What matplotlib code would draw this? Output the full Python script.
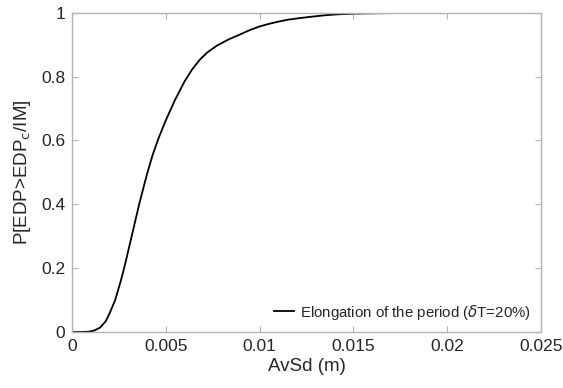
import matplotlib
matplotlib.use("Agg")
import matplotlib.pyplot as plt

# AvSd (m) vs exceedance probability
avsd = [0.0, 0.0005, 0.0009, 0.0012, 0.0015, 0.0018, 0.0020, 0.0023, 0.0026,
        0.0028, 0.0030, 0.0032, 0.0034, 0.0036, 0.0038, 0.0040, 0.0043, 0.0046,
        0.0050, 0.0055, 0.0060, 0.0064, 0.0068, 0.0072, 0.0077, 0.0083, 0.0090,
        0.0095, 0.0100, 0.0105, 0.0110, 0.0115, 0.0120, 0.0127, 0.0135, 0.0142,
        0.0150, 0.0160, 0.0175, 0.0200, 0.0250]
prob = [0.0, 0.0, 0.001, 0.005, 0.014, 0.034, 0.058, 0.100, 0.160,
        0.205, 0.255, 0.305, 0.355, 0.405, 0.450, 0.495, 0.555, 0.605,
        0.663, 0.728, 0.785, 0.822, 0.852, 0.875, 0.896, 0.915, 0.933,
        0.946, 0.957, 0.965, 0.972, 0.978, 0.982, 0.987, 0.992, 0.995,
        0.997, 0.998, 0.999, 1.0, 1.0]

xticks = [0, 0.005, 0.01, 0.015, 0.02, 0.025]
xticklabels = ["0", "0.005", "0.01", "0.015", "0.02", "0.025"]
yticks = [0, 0.2, 0.4, 0.6, 0.8, 1]
yticklabels = ["0", "0.2", "0.4", "0.6", "0.8", "1"]

plt.rcParams['font.family'] = ['Liberation Sans', 'DejaVu Sans']
plt.rcParams['mathtext.fontset'] = 'dejavusans'

fig = plt.figure(figsize=(5.63, 3.88), dpi=100)
ax = fig.add_axes([0.1279, 0.1443, 0.8331, 0.8230])

ax.plot(avsd, prob, color='black', linewidth=1.3,
        label=r'Elongation of the period ($\delta$T=20%)')

ax.set_xlim(0, 0.025)
ax.set_ylim(0, 1)
ax.set_xticks(xticks)
ax.set_xticklabels(xticklabels)
ax.set_yticks(yticks)
ax.set_yticklabels(yticklabels)

axis_gray = '#b4b4b4'
text_gray = '#262626'
for s in ax.spines.values():
    s.set_color(axis_gray)
    s.set_linewidth(1.0)
ax.tick_params(direction='in', length=4, width=0.8, color=axis_gray,
               labelcolor=text_gray, labelsize=12.5, top=True, right=True,
               pad=5)

ax.set_xlabel('AvSd (m)', fontsize=13.5, color=text_gray, labelpad=3)
ax.set_ylabel(r'P[EDP>EDP$_\mathsf{c}$/IM]', fontsize=13.5, color=text_gray,
              labelpad=6)

leg = ax.legend(loc='lower right', frameon=False, fontsize=10.8,
                handlelength=1.3, handletextpad=0.4, borderaxespad=0.3)
for t in leg.get_texts():
    t.set_color(text_gray)

fig.savefig('out.png', dpi=100)
